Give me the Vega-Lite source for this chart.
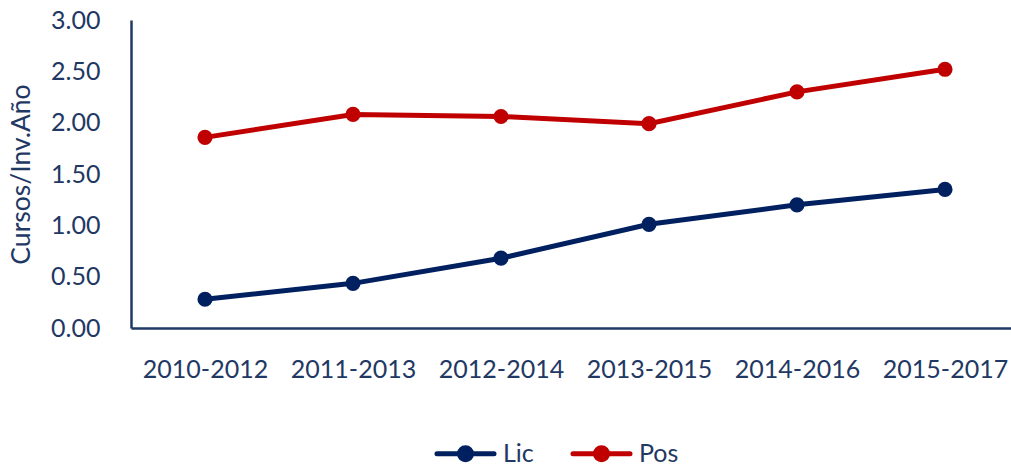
{
  "$schema": "https://vega.github.io/schema/vega-lite/v6.json",
  "autosize": "none",
  "padding": {"left": 131, "top": 20, "right": 0, "bottom": 140},
  "width": 888,
  "height": 308,
  "background": "white",
  "config": {
    "view": {"stroke": null},
    "font": "Lato",
    "axis": {"labelFont": "Lato", "titleFont": "Lato", "labelColor": "#1F3864", "titleColor": "#1F3864"}
  },
  "data": {
    "values": [
      {"periodo": "2010-2012", "serie": "Lic", "valor": 0.28},
      {"periodo": "2011-2013", "serie": "Lic", "valor": 0.435},
      {"periodo": "2012-2014", "serie": "Lic", "valor": 0.68},
      {"periodo": "2013-2015", "serie": "Lic", "valor": 1.01},
      {"periodo": "2014-2016", "serie": "Lic", "valor": 1.2},
      {"periodo": "2015-2017", "serie": "Lic", "valor": 1.35},
      {"periodo": "2010-2012", "serie": "Pos", "valor": 1.857},
      {"periodo": "2011-2013", "serie": "Pos", "valor": 2.08},
      {"periodo": "2012-2014", "serie": "Pos", "valor": 2.06},
      {"periodo": "2013-2015", "serie": "Pos", "valor": 1.99},
      {"periodo": "2014-2016", "serie": "Pos", "valor": 2.3},
      {"periodo": "2015-2017", "serie": "Pos", "valor": 2.52}
    ]
  },
  "encoding": {
    "x": {
      "field": "periodo", "type": "ordinal",
      "scale": {"type": "point", "padding": 0.5},
      "axis": {"title": null, "labelAngle": 0, "ticks": false, "tickSize": 0, "grid": false, "domainColor": "#1F3864", "domainWidth": 2.5, "labelFontSize": 25, "labelPadding": 29}
    },
    "y": {
      "field": "valor", "type": "quantitative",
      "scale": {"domain": [0, 3], "nice": false, "zero": true},
      "axis": {"title": "Cursos/Inv.Año", "values": [0, 0.5, 1, 1.5, 2, 2.5, 3], "format": ".2f", "ticks": false, "tickSize": 0, "grid": false, "domainColor": "#1F3864", "domainWidth": 2.5, "labelFontSize": 25, "labelPadding": 31, "titleFontSize": 26.5, "titleFontWeight": "normal", "titlePadding": 15}
    },
    "color": {
      "field": "serie", "type": "nominal",
      "scale": {"domain": ["Lic", "Pos"], "range": ["#002060", "#C00000"]},
      "legend": {
        "title": null,
        "orient": "none",
        "direction": "horizontal",
        "legendX": 301,
        "legendY": 400,
        "padding": 0,
        "symbolType": "M-0.92,0H0.92M0.194,0A0.194,0.194,0,1,1,-0.194,0A0.194,0.194,0,1,1,0.194,0Z",
        "symbolSize": 3844,
        "symbolStrokeWidth": 5,
        "labelFontSize": 25,
        "labelColor": "#1F3864",
        "labelOffset": 4,
        "columnPadding": 28,
        "encode": {
          "symbols": {"update": {"fill": {"scale": "color", "field": "value"}, "stroke": {"scale": "color", "field": "value"}, "strokeWidth": {"value": 5}, "strokeCap": {"value": "round"}, "fillOpacity": {"value": 1}, "strokeOpacity": {"value": 1}}}
        }
      }
    }
  },
  "layer": [
    {"mark": {"type": "line", "strokeWidth": 5}},
    {"mark": {"type": "point", "filled": true, "size": 230, "opacity": 1}}
  ]
}
